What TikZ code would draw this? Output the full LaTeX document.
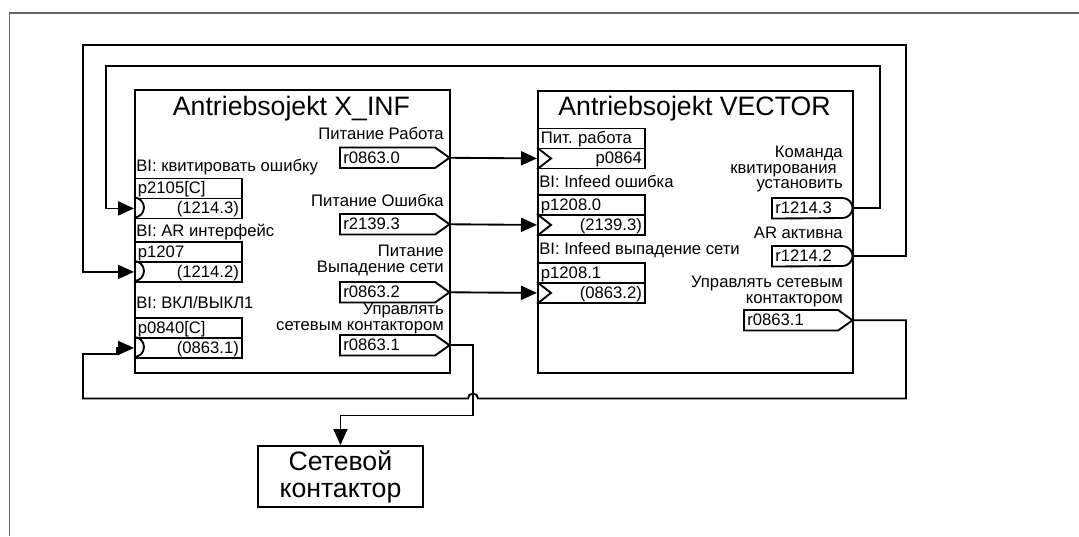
\documentclass[tikz,border=0pt]{standalone}
\usepackage{fontspec}
\setmainfont{Liberation Sans}
\usetikzlibrary{arrows.meta}
\newcommand\lblfont{\fontsize{12.5pt}{15pt}\selectfont}
\newcommand\ttlfont{\fontsize{20pt}{20.25pt}\selectfont}
\frenchspacing

\begin{document}
\begin{tikzpicture}[x=0.75pt,y=-0.75pt,
  ln/.style={line width=1.4pt},
  outerframe/.style={line width=1.4pt, draw=black!60},
  blk/.style={draw, ln, rectangle, inner sep=0pt, anchor=north west},
  prow/.style={rectangle, inner xsep=2.25pt, inner ysep=0pt, minimum height=15pt,
    text height=8.2pt, text depth=0pt, anchor=north west, font=\lblfont},
  inrow/.style={prow, draw, ln, text width=75.75pt},
  lbl/.style={inner sep=0pt, font=\lblfont},
  ttl/.style={inner sep=0pt, font=\ttlfont, anchor=base},
  conn/.style={ln, -{Triangle[length=12pt,width=10.5pt]}},
]
\useasboundingbox (0,0) rectangle (1079,536);

% page frame
\draw[outerframe] (9.5,536) -- (9.5,13) -- (1079,13);

% drive objects
\node[blk, minimum width=236.25pt, minimum height=212.25pt] (xinf) at (134,89) {};
\node[blk, minimum width=236.25pt, minimum height=211.5pt] (vec) at (537,90) {};
\node[ttl] (xinfT) at (291.5,115) {Antriebsojekt X\_INF};
\node[ttl] (vecT) at (694.5,115) {Antriebsojekt VECTOR};

% X_INF: binector outputs
\node[prow, text width=77.25pt, align=left] (xo1) at (340,147.5) {r0863.0};
\node[prow, text width=77.25pt, align=left] (xo2) at (340,214) {r2139.3};
\node[prow, text width=77.25pt, align=left] (xo3) at (340,282) {r0863.2};
\node[prow, text width=77.25pt, align=left] (xo4) at (340,335) {r0863.1};
\foreach \n in {xo1,xo2,xo3,xo4}
  \draw[ln] (\n.south west) -- (\n.north west) -- ([xshift=71.25pt]\n.north west)
    -- (\n.east) -- ([xshift=71.25pt]\n.south west) -- cycle;

\node[lbl, anchor=base east] (xl1) at (444,139.5) {Питание Работа};
\node[lbl, anchor=base east] (xl2) at (444,206.5) {Питание Ошибка};
\node[lbl, anchor=base east] (xl3a) at (444,256.5) {Питание};
\node[lbl, anchor=base east] (xl3b) at (444,272.5) {Выпадение сети};
\node[lbl, anchor=base east] (xl4a) at (444,314.5) {Управлять};
\node[lbl, anchor=base east] (xl4b) at (444,330.5) {сетевым контактором};

% X_INF: binector inputs
\node[inrow, align=left] (xi1a) at (134,177.5) {p2105[C]};
\node[inrow, align=right] (xi1b) at (134,197.5) {(1214.3)};
\node[inrow, align=left] (xi2a) at (134,241) {p1207};
\node[inrow, align=right] (xi2b) at (134,261) {(1214.2)};
\node[inrow, align=left] (xi3a) at (134,317) {p0840[C]};
\node[inrow, align=right] (xi3b) at (134,337) {(0863.1)};
\foreach \n in {xi1b,xi2b,xi3b}
  \draw[ln] (\n.north west) arc[start angle=90, end angle=-90, radius=7.5pt];

\node[lbl, anchor=base west] (xil1) at (136,171.5) {BI: квитировать ошибку};
\node[lbl, anchor=base west] (xil2) at (136,236.5) {BI: AR интерфейс};
\node[lbl, anchor=base west] (xil3) at (136,308.5) {BI: ВКЛ/ВЫКЛ1};

% VECTOR: binector inputs
\node[inrow, align=left] (vi1a) at (537,127.5) {Пит. работа};
\node[inrow, align=right] (vi1b) at (537,147.5) {p0864};
\node[inrow, align=left] (vi2a) at (537,194) {p1208.0};
\node[inrow, align=right] (vi2b) at (537,214) {(2139.3)};
\node[inrow, align=left] (vi3a) at (537,262) {p1208.1};
\node[inrow, align=right] (vi3b) at (537,282) {(0863.2)};
\foreach \n in {vi1b,vi2b,vi3b}
  \draw[ln] (\n.north west) -- ([xshift=10.5pt]\n.west) -- (\n.south west);

\node[lbl, anchor=base west] (vil2) at (539,187) {BI: Infeed ошибка};
\node[lbl, anchor=base west] (vil3) at (539,254.5) {BI: Infeed выпадение сети};

% VECTOR: binector outputs
\node[prow, text width=55.5pt, align=left] (vo1) at (772,198) {r1214.3};
\node[prow, text width=55.5pt, align=left] (vo2) at (772,246) {r1214.2};
\node[prow, text width=76.5pt, align=left] (vo3) at (744,310) {r0863.1};
\foreach \n in {vo1,vo2}
  \draw[ln] (\n.south west) -- (\n.north west) -- ([xshift=-7.5pt]\n.north east)
    arc[start angle=90, end angle=-90, radius=7.5pt] -- cycle;
\draw[ln] (vo3.south west) -- (vo3.north west) -- ([xshift=70.5pt]vo3.north west)
  -- (vo3.east) -- ([xshift=70.5pt]vo3.south west) -- cycle;

\node[lbl, anchor=base east] (vol1a) at (843,157.5) {Команда};
\node[lbl, anchor=base east] (vol1b) at (837,173) {квитирования};
\node[lbl, anchor=base east] (vol1c) at (843,188.5) {установить};
\node[lbl, anchor=base east] (vol2) at (843,238.5) {AR активна};
\node[lbl, anchor=base east] (vol3a) at (843,287.5) {Управлять сетевым};
\node[lbl, anchor=base east] (vol3b) at (843,303) {контактором};

% line contactor
\node[blk, minimum width=123.75pt, minimum height=45.75pt, align=center,
  font=\fontsize{20pt}{20.25pt}\selectfont] (kont) at (257,445) {Сетевой\\контактор};

% interconnections
\coordinate (bR) at (880,66);
\coordinate (bL) at (106,66);
\coordinate (aR) at (906,45);
\coordinate (aL) at (83,45);
\coordinate (cR) at (906,398.5);
\coordinate (hopE) at (478,398.5);
\coordinate (cL) at (83,398.5);
\coordinate (cUp) at (83,354);
\coordinate (cJog) at (117,354);
\coordinate (dR) at (473,415.5);

\draw[conn] (xo1.east) -- (vi1b.west);
\draw[conn] (xo2.east) -- (vi2b.west);
\draw[conn] (xo3.east) -- (vi3b.west);
\draw[conn] (vo1.east) -| (bR) -- (bL) |- (xi1b.west);
\draw[conn] (vo2.east) -| (aR) -- (aL) |- (xi2b.west);
\draw[conn] (vo3.east) -| (cR) -- (hopE) arc[start angle=0, end angle=180, radius=3.75pt]
  -- (cL) -- (cUp) -- (cJog) -- (cJog |- xi3b.west) -- (xi3b.west);
\draw[conn] (xo4.east) -| (dR) -| (kont.north);
\end{tikzpicture}
\end{document}
